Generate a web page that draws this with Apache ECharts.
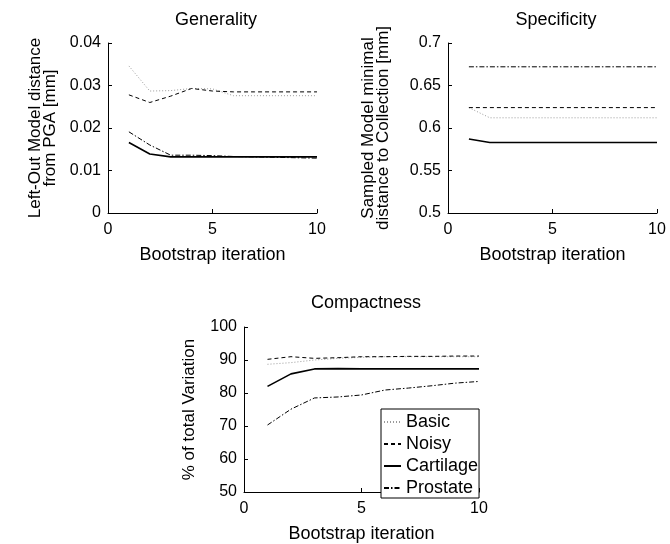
<!DOCTYPE html>
<html>
<head>
<meta charset="utf-8">
<script src="https://cdn.jsdelivr.net/npm/echarts@6/dist/echarts.min.js"></script>
<style>
  html, body { margin: 0; padding: 0; background: #fff; }
  #main { width: 670px; height: 544px; }
</style>
</head>
<body>
<div id="main"></div>
<script>
// bootstrap iterations on the x axis
var iterations = [1, 2, 3, 4, 5, 6, 7, 8, 9, 10];
var seriesNames = ['Basic', 'Noisy', 'Cartilage', 'Prostate'];

// Generality [mm]
var genBasic = [0.0346, 0.0287, 0.0288, 0.0293, 0.0292, 0.0276, 0.0276, 0.0276, 0.0276, 0.0276];
var genNoisy = [0.0278, 0.0260, 0.0275, 0.0293, 0.0287, 0.0285, 0.0285, 0.0285, 0.0285, 0.0285];
var genCartilage = [0.0166, 0.0139, 0.0132, 0.0132, 0.0132, 0.0132, 0.0132, 0.0132, 0.0132, 0.0132];
var genProstate = [0.0191, 0.0160, 0.0136, 0.0136, 0.0135, 0.0133, 0.0132, 0.0131, 0.0130, 0.0129];

// Specificity [mm]
var specBasic = [0.624, 0.612, 0.612, 0.612, 0.612, 0.612, 0.612, 0.612, 0.612, 0.612];
var specNoisy = [0.624, 0.624, 0.624, 0.624, 0.624, 0.624, 0.624, 0.624, 0.624, 0.624];
var specCartilage = [0.587, 0.583, 0.583, 0.583, 0.583, 0.583, 0.583, 0.583, 0.583, 0.583];
var specProstate = [0.672, 0.672, 0.672, 0.672, 0.672, 0.672, 0.672, 0.672, 0.672, 0.672];

// Compactness [% of total variation]
var compBasic = [88.7, 89.2, 90.0, 90.5, 90.8, 91.0, 91.0, 91.0, 91.0, 91.0];
var compNoisy = [90.2, 91.0, 90.5, 90.7, 91.0, 91.0, 91.1, 91.1, 91.2, 91.2];
var compCartilage = [82.0, 85.8, 87.3, 87.4, 87.3, 87.3, 87.3, 87.3, 87.3, 87.3];
var compProstate = [70.3, 75.1, 78.5, 78.8, 79.4, 80.9, 81.5, 82.2, 83.0, 83.5];

var FONT = "'Liberation Sans', Arial, Helvetica, sans-serif";

// line look for each series name (MATLAB style)
var lineLook = {
    Basic: { color: '#9a9a9a', width: 1, type: [1, 2] },
    Noisy: { color: '#000', width: 1, type: [4, 3] },
    Cartilage: { color: '#000', width: 1.6, type: 'solid' },
    Prostate: { color: '#000', width: 1, type: [5, 2, 1.5, 2] }
};

function pairs(ys) {
    return iterations.map(function (x, i) { return [x, ys[i]]; });
}

function makeSeries(name, ys, idx) {
    return {
        name: name,
        type: 'line',
        xAxisIndex: idx,
        yAxisIndex: idx,
        data: pairs(ys),
        symbol: 'none',
        showSymbol: false,
        silent: true,
        animation: false,
        itemStyle: { color: lineLook[name].color },
        lineStyle: lineLook[name]
    };
}

function xAxisOf(idx, gap) {
    return {
        gridIndex: idx,
        type: 'value',
        min: 0, max: 10, interval: 5,
        name: 'Bootstrap iteration',
        nameLocation: 'middle',
        nameGap: gap,
        nameTextStyle: { fontFamily: FONT, fontSize: 18, color: '#000' },
        axisLine: { onZero: false, lineStyle: { color: '#000', width: 1 } },
        axisTick: { inside: true, length: 4, lineStyle: { color: '#000' } },
        axisLabel: { fontFamily: FONT, fontSize: 16, color: '#000', margin: 9 },
        splitLine: { show: false }
    };
}

function yAxisOf(idx, min, max, step, name, gap) {
    return {
        gridIndex: idx,
        type: 'value',
        min: min, max: max, interval: step,
        name: name,
        nameLocation: 'middle',
        nameRotate: 90,
        nameGap: gap,
        nameTextStyle: { fontFamily: FONT, fontSize: 17, lineHeight: 15, color: '#000' },
        axisLine: { show: true, onZero: false, lineStyle: { color: '#000', width: 1 } },
        axisTick: { show: true, inside: true, length: 4, lineStyle: { color: '#000' } },
        axisLabel: { fontFamily: FONT, fontSize: 16, color: '#000', margin: 7 },
        splitLine: { show: false }
    };
}

var chart = echarts.init(document.getElementById('main'));

var option = {
    backgroundColor: '#fff',
    animation: false,
    title: [
        { text: 'Generality', left: 216, top: 11, textAlign: 'center', padding: 0,
          textStyle: { fontFamily: FONT, fontSize: 18, fontWeight: 'normal', color: '#000' } },
        { text: 'Specificity', left: 556, top: 11, textAlign: 'center', padding: 0,
          textStyle: { fontFamily: FONT, fontSize: 18, fontWeight: 'normal', color: '#000' } },
        { text: 'Compactness', left: 366, top: 294, textAlign: 'center', padding: 0,
          textStyle: { fontFamily: FONT, fontSize: 18, fontWeight: 'normal', color: '#000' } }
    ],
    grid: [
        { left: 108, top: 43, width: 209, height: 170 },
        { left: 448, top: 43, width: 209, height: 170 },
        { left: 244, top: 327, width: 235, height: 170 }
    ],
    xAxis: [xAxisOf(0, 33), xAxisOf(1, 33), xAxisOf(2, 33)],
    yAxis: [
        yAxisOf(0, 0, 0.04, 0.01, 'Left-Out Model distance\nfrom PGA [mm]', 50),
        yAxisOf(1, 0.5, 0.7, 0.05, 'Sampled Model minimal\ndistance to Collection [mm]', 57),
        yAxisOf(2, 50, 100, 10, '% of total Variation', 47)
    ],
    legend: {
        data: seriesNames,
        orient: 'vertical',
        left: 381,
        top: 409,
        padding: [4, 1, 1, 2],
        itemGap: 4,
        itemWidth: 17,
        itemHeight: 14,
        backgroundColor: '#fff',
        borderColor: '#000',
        borderWidth: 1,
        borderRadius: 0,
        selectedMode: false,
        itemStyle: { opacity: 0 },
        textStyle: { fontFamily: FONT, fontSize: 18, lineHeight: 15, color: '#000' }
    },
    series: [
        makeSeries('Basic', genBasic, 0),
        makeSeries('Noisy', genNoisy, 0),
        makeSeries('Cartilage', genCartilage, 0),
        makeSeries('Prostate', genProstate, 0),
        makeSeries('Basic', specBasic, 1),
        makeSeries('Noisy', specNoisy, 1),
        makeSeries('Cartilage', specCartilage, 1),
        makeSeries('Prostate', specProstate, 1),
        makeSeries('Basic', compBasic, 2),
        makeSeries('Noisy', compNoisy, 2),
        makeSeries('Cartilage', compCartilage, 2),
        makeSeries('Prostate', compProstate, 2)
    ]
};

chart.setOption(option);
</script>
</body>
</html>
